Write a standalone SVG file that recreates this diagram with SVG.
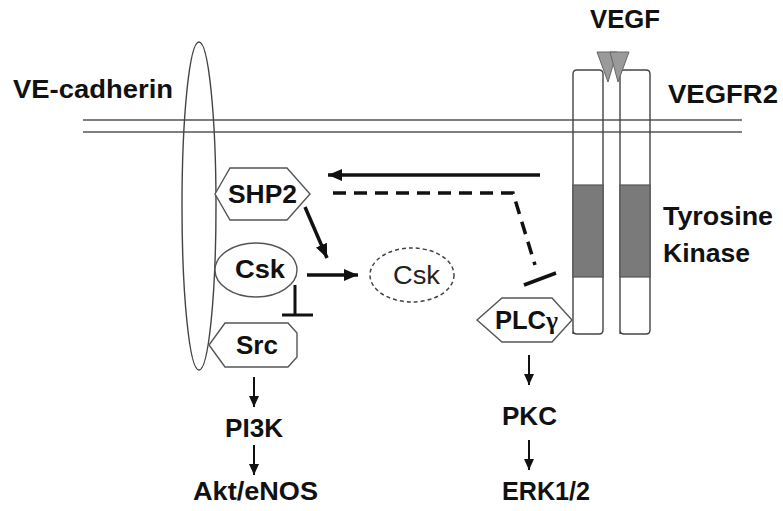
<svg xmlns="http://www.w3.org/2000/svg" width="783" height="511" viewBox="0 0 783 511">
<style>
.lbl{font-family:"Liberation Sans",Arial,sans-serif;font-weight:bold;font-size:25px;fill:#111}
.reg{font-family:"Liberation Sans",Arial,sans-serif;font-size:25px;fill:#222}
.shape{fill:#fff;stroke:#555;stroke-width:1.4}
.open{fill:none;stroke:#444;stroke-width:1.4}
.mem{stroke:#555;stroke-width:1.3;fill:none}
.thick{stroke:#111;stroke-width:3.5;fill:none}
.thin{stroke:#111;stroke-width:2;fill:none}
</style>
<defs>
<marker id="ah" markerUnits="userSpaceOnUse" markerWidth="16" markerHeight="14" refX="14" refY="7" orient="auto">
<path d="M0,1 L14,7 L0,13 Z" fill="#111"/>
</marker>
<marker id="ahs" markerUnits="userSpaceOnUse" markerWidth="12" markerHeight="12" refX="11" refY="6" orient="auto">
<path d="M0,1 L11,6 L0,11 Z" fill="#111"/>
</marker>
</defs>

<g id="membrane">
<line class="mem" x1="83" y1="120" x2="742" y2="120"/>
<line class="mem" x1="83" y1="132" x2="742" y2="132"/>
</g>

<g id="ve-cadherin">
<ellipse class="open" cx="199" cy="206" rx="17" ry="164"/>
<text class="lbl" x="13" y="98" textLength="160" lengthAdjust="spacingAndGlyphs">VE-cadherin</text>
</g>

<g id="vegfr2">
<path class="open" d="M573,334 L573,74 Q573,70 577,70 L599,70 Q603,70 603,74 L603,330 Q603,334 599,334 L577,334 Q573,334 573,330 Z"/>
<path class="open" d="M620,334 L620,74 Q620,70 624,70 L646,70 Q650,70 650,74 L650,330 Q650,334 646,334 L624,334 Q620,334 620,330 Z"/>
<rect x="573" y="185" width="30" height="92" fill="#7a7a7a" stroke="#555" stroke-width="1.2"/>
<rect x="620" y="185" width="30" height="92" fill="#7a7a7a" stroke="#555" stroke-width="1.2"/>
<text class="lbl" x="668" y="103" textLength="110" lengthAdjust="spacingAndGlyphs">VEGFR2</text>
<text class="lbl" x="663" y="225" textLength="110" lengthAdjust="spacingAndGlyphs">Tyrosine</text>
<text class="lbl" x="663" y="262" textLength="87" lengthAdjust="spacingAndGlyphs">Kinase</text>
</g>

<g id="vegf">
<polygon points="597,52 617,52 608,82" fill="#9a9a9a" stroke="#666" stroke-width="1"/>
<polygon points="610,52 629,52 618,82" fill="#9a9a9a" stroke="#666" stroke-width="1"/>
<text class="lbl" x="590" y="28" textLength="70" lengthAdjust="spacingAndGlyphs">VEGF</text>
</g>

<g id="shp2">
<polygon class="shape" points="215,194 230,168 287,168 310,194 287,220 230,220"/>
<text class="lbl" x="228" y="203" textLength="69" lengthAdjust="spacingAndGlyphs">SHP2</text>
</g>

<g id="csk">
<ellipse class="shape" cx="256" cy="270" rx="41" ry="27"/>
<text class="lbl" x="235" y="278" textLength="50" lengthAdjust="spacingAndGlyphs">Csk</text>
</g>

<g id="csk-free">
<ellipse cx="412" cy="275" rx="42" ry="27" fill="none" stroke="#444" stroke-width="1.5" stroke-dasharray="4 3"/>
<text class="reg" x="393" y="284" textLength="47" lengthAdjust="spacingAndGlyphs">Csk</text>
</g>

<g id="src">
<polygon class="shape" points="225,323 288,323 297,333 297,357 288,367 225,367 209,345"/>
<text class="lbl" x="236" y="354" textLength="42" lengthAdjust="spacingAndGlyphs">Src</text>
</g>

<g id="plcg">
<polygon class="shape" points="477,320 502,298 552,298 572,320 552,342 502,342"/>
<text class="lbl" x="495" y="329" textLength="63" lengthAdjust="spacingAndGlyphs">PLC<tspan font-family="'Liberation Serif',serif">γ</tspan></text>
</g>

<g id="pi3k">
<text class="lbl" x="225" y="437" textLength="58" lengthAdjust="spacingAndGlyphs">PI3K</text>
</g>
<g id="akt">
<text class="lbl" x="193" y="500" textLength="125" lengthAdjust="spacingAndGlyphs">Akt/eNOS</text>
</g>
<g id="pkc">
<text class="lbl" x="502" y="425" textLength="55" lengthAdjust="spacingAndGlyphs">PKC</text>
</g>
<g id="erk">
<text class="lbl" x="502" y="500" textLength="88" lengthAdjust="spacingAndGlyphs">ERK1/2</text>
</g>

<g id="connectors">
<line class="thick" x1="540" y1="175" x2="328" y2="175" marker-end="url(#ah)"/>
<path d="M333,193 L513,193 L535,265" fill="none" stroke="#111" stroke-width="3.5" stroke-dasharray="13 8"/>
<line x1="524" y1="285" x2="556" y2="273" stroke="#111" stroke-width="3.5"/>
<line class="thick" x1="305" y1="207" x2="327" y2="258" stroke-width="3" marker-end="url(#ah)"/>
<line class="thick" x1="307" y1="275" x2="358" y2="275" stroke-width="3" marker-end="url(#ah)"/>
<line x1="295" y1="285" x2="295" y2="315" stroke="#111" stroke-width="3"/>
<line x1="282" y1="315" x2="313" y2="315" stroke="#111" stroke-width="3"/>
<line class="thin" x1="254" y1="377" x2="254" y2="407" marker-end="url(#ahs)"/>
<line class="thin" x1="254" y1="445" x2="254" y2="475" marker-end="url(#ahs)"/>
<line class="thin" x1="529" y1="355" x2="529" y2="385" marker-end="url(#ahs)"/>
<line class="thin" x1="529" y1="440" x2="529" y2="470" marker-end="url(#ahs)"/>
</g>
</svg>
